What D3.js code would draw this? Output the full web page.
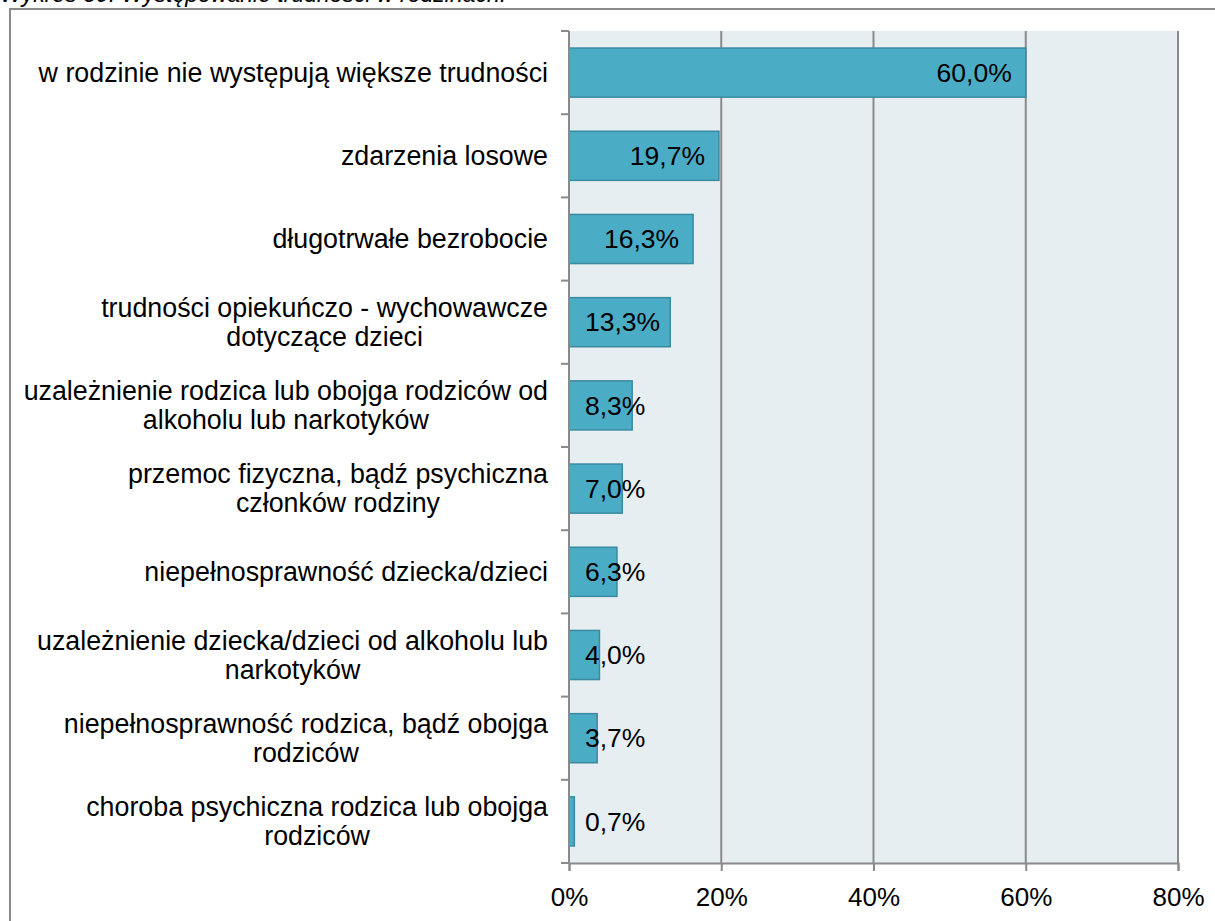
<!DOCTYPE html>
<html>
<head>
<meta charset="utf-8">
<script src="https://cdn.jsdelivr.net/npm/d3@7"></script>
<style>
  html, body { margin: 0; padding: 0; background: #fff; }
  svg { display: block; }
</style>
</head>
<body>
<svg id="chart" width="1215" height="921"></svg>
<script>
// Problem categories (each entry is a list of wrapped label lines)
const categories = [
  ["w rodzinie nie występują większe trudności"],
  ["zdarzenia losowe"],
  ["długotrwałe bezrobocie"],
  ["trudności opiekuńczo - wychowawcze", "dotyczące dzieci"],
  ["uzależnienie rodzica lub obojga rodziców od", "alkoholu lub narkotyków"],
  ["przemoc fizyczna, bądź psychiczna", "członków rodziny"],
  ["niepełnosprawność dziecka/dzieci"],
  ["uzależnienie dziecka/dzieci od alkoholu lub", "narkotyków"],
  ["niepełnosprawność rodzica, bądź obojga", "rodziców"],
  ["choroba psychiczna rodzica lub obojga", "rodziców"]
];
// Share of families (%)
const values = [60.0, 19.7, 16.3, 13.3, 8.3, 7.0, 6.3, 4.0, 3.7, 0.7];
const tickValues = [0, 20, 40, 60, 80];
const titleText = "Wykres 30. Występowanie trudności w rodzinach.";

const svg = d3.select("#chart");
const plot = { left: 569, right: 1178, top: 31, bottom: 863 };
const font = "'Liberation Sans', Arial, sans-serif";
const grey = "#8a8a8a";

// Title, partly above the top edge
svg.append("text")
  .attr("x", 0).attr("y", 2)
  .attr("font-family", font).attr("font-style", "italic")
  .attr("font-size", 23).attr("fill", "#000")
  .text(titleText);

// Outer frame
svg.append("rect")
  .attr("x", 10).attr("y", 9).attr("width", 1215).attr("height", 930)
  .attr("fill", "none").attr("stroke", grey).attr("stroke-width", 2);

const x = d3.scaleLinear().domain([0, 80]).range([plot.left, plot.right]);
const idx = d3.range(categories.length);
const y = d3.scaleBand().domain(idx).range([plot.top, plot.bottom]).paddingInner(0.41).paddingOuter(0.205);

// Plot background
svg.append("rect")
  .attr("x", plot.left).attr("y", plot.top)
  .attr("width", plot.right - plot.left).attr("height", plot.bottom - plot.top)
  .attr("fill", "#e7eef2");

// Vertical gridlines
svg.append("g").selectAll("line").data(tickValues.slice(1)).join("line")
  .attr("x1", d => x(d)).attr("x2", d => x(d))
  .attr("y1", plot.top).attr("y2", plot.bottom)
  .attr("stroke", grey).attr("stroke-width", 2);

// Bars
svg.append("g").selectAll("rect").data(values).join("rect")
  .attr("x", x(0)).attr("y", (d, i) => y(i))
  .attr("width", d => x(d) - x(0)).attr("height", y.bandwidth())
  .attr("fill", "#4bacc6").attr("stroke", "#3a8aa0").attr("stroke-width", 1.5);

// Category axis: line plus ticks at band boundaries
const step = y.step();
const bounds = d3.range(categories.length + 1).map(i => plot.top + i * step);
svg.append("line")
  .attr("x1", plot.left).attr("x2", plot.left)
  .attr("y1", plot.top).attr("y2", plot.bottom)
  .attr("stroke", grey).attr("stroke-width", 2);
svg.append("g").selectAll("line").data(bounds).join("line")
  .attr("x1", plot.left - 8).attr("x2", plot.left)
  .attr("y1", d => d).attr("y2", d => d)
  .attr("stroke", grey).attr("stroke-width", 2);

// Value axis
const xAxis = d3.axisBottom(x).tickValues(tickValues)
  .tickFormat(d => d + "%").tickSize(8).tickPadding(17);
const gx = svg.append("g").attr("transform", `translate(0,${plot.bottom})`).call(xAxis);
gx.select(".domain").attr("stroke", grey).attr("stroke-width", 2);
gx.selectAll(".tick line").attr("stroke", grey).attr("stroke-width", 2);
gx.selectAll(".tick text").attr("font-family", font).attr("font-size", 26).attr("fill", "#000");

// Category labels: lines centred within a right-aligned block
const labelRight = 548;
const fs = 26.8, lh = 29;
categories.forEach((lines, i) => {
  const g = svg.append("g");
  const texts = lines.map((ln, k) => g.append("text")
    .attr("font-family", font).attr("font-size", fs).attr("fill", "#000")
    .attr("text-anchor", "middle").text(ln));
  const w = d3.max(texts, t => t.node().getComputedTextLength());
  const cy = y(i) + y.bandwidth() / 2;
  const y0 = cy - (lines.length - 1) * lh / 2;
  texts.forEach((t, k) => t.attr("x", labelRight - w / 2).attr("y", y0 + k * lh).attr("dy", "0.35em"));
});

// Value labels: inside end, pushed right of the axis for short bars
const fmt = v => v.toFixed(1).replace(".", ",") + "%";
values.forEach((v, i) => {
  const t = svg.append("text")
    .attr("font-family", font).attr("font-size", 26.5).attr("fill", "#000")
    .attr("text-anchor", "end").attr("dy", "0.35em")
    .attr("y", y(i) + y.bandwidth() / 2).text(fmt(v));
  const w = t.node().getComputedTextLength();
  t.attr("x", Math.max(x(v) - 14, plot.left + 16 + w));
});
</script>
</body>
</html>
